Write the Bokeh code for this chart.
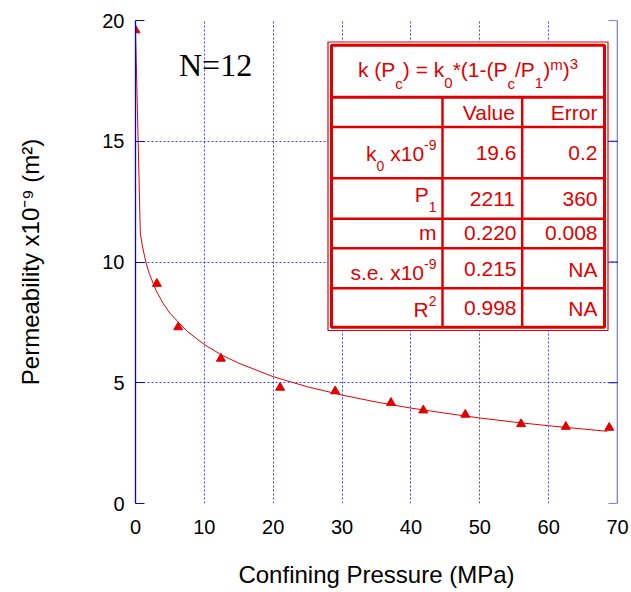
import math
from bokeh.plotting import figure
from bokeh.models import Range1d, FixedTicker, Label, Span
from bokeh.embed import file_html
from bokeh.resources import INLINE

# ---- data ----
pressure = [0.0, 3.1, 6.2, 12.4, 21.0, 29.0, 37.1, 41.8, 47.9, 56.0, 62.5, 68.8]
permeability = [19.6, 9.1, 7.3, 6.0, 4.8, 4.65, 4.17, 3.86, 3.68, 3.29, 3.18, 3.14]

fit_pressure = [0, 0.7, 1.0, 1.5, 2, 3, 4, 5, 7.5, 10, 12.5, 15, 20, 25, 30, 35, 40, 45, 50, 55, 60, 68.5]
fit_perm = [19.6, 11.2, 10.66, 10.0, 9.52, 8.81, 8.29, 7.88, 7.13, 6.58, 6.15, 5.81, 5.25, 4.83,
            4.49, 4.20, 3.95, 3.74, 3.54, 3.37, 3.22, 2.99]

x_ticks = [0, 10, 20, 30, 40, 50, 60, 70]
y_ticks = [0, 5, 10, 15, 20]

x_title = "Confining Pressure (MPa)"
y_title = "Permeability x10\u207b\u2079 (m\u00b2)"
col_headers = ["Value", "Error"]
table_values = ["19.6", "2211", "0.220", "0.215", "0.998"]
table_errors = ["0.2", "360", "0.008", "NA", "NA"]
sample_label = "N=12"

RED = "#e00000"
BLUE = "#0000ff"
SANS = "Liberation Sans"

# ---- figure ----
p = figure(frame_width=482, frame_height=483,
           min_border_left=135, min_border_right=14, min_border_top=20, min_border_bottom=89,
           x_range=Range1d(0, 70), y_range=Range1d(0, 20),
           output_backend="svg", toolbar_location=None)
p.outline_line_color = None
p.background_fill_color = "white"
p.border_fill_color = "white"

for g, t in ((p.xgrid, x_ticks), (p.ygrid, y_ticks)):
    g.ticker = FixedTicker(ticks=t)
    g.grid_line_color = BLUE
    g.grid_line_alpha = 0.75
    g.grid_line_dash = "2 2"
    g.grid_line_width = 1

xa = p.xaxis[0]
xa.ticker = FixedTicker(ticks=x_ticks)
xa.axis_line_color = None
xa.major_tick_line_color = None
xa.minor_tick_line_color = None
xa.major_label_text_font = SANS
xa.major_label_text_font_size = "20px"
xa.major_label_text_color = "black"
xa.major_label_standoff = 10
xa.axis_label = x_title
xa.axis_label_text_font = SANS
xa.axis_label_text_font_size = "24px"
xa.axis_label_text_font_style = "normal"
xa.axis_label_text_color = "black"
xa.axis_label_standoff = 24

ya = p.yaxis[0]
ya.ticker = FixedTicker(ticks=y_ticks)
ya.axis_line_color = BLUE
ya.axis_line_width = 1.3
ya.major_tick_line_color = BLUE
ya.major_tick_in = 9
ya.major_tick_out = 0
ya.minor_tick_line_color = None
ya.major_label_text_font = SANS
ya.major_label_text_font_size = "20px"
ya.major_label_text_color = "black"
ya.major_label_standoff = 11
ya.axis_label = y_title
ya.axis_label_text_font = SANS
ya.axis_label_text_font_size = "24px"
ya.axis_label_text_font_style = "normal"
ya.axis_label_text_color = "black"
ya.axis_label_standoff = 55

# ---- pixel -> data helpers for annotation layout ----
PX0, PX1, PY0, PY1 = 135.0, 617.0, 503.0, 20.0
def dx(px):
    return (px - PX0) * 70.0 / (PX1 - PX0)
def dy(py):
    return (PY0 - py) * 20.0 / (PY0 - PY1)

# right-hand frame line with inward ticks
p.add_layout(Span(location=70, dimension="height", line_color=BLUE, line_width=1.3))
p.segment(x0=[dx(PX1 - 9)] * len(y_ticks), x1=[70] * len(y_ticks), y0=y_ticks, y1=y_ticks,
          line_color=BLUE, line_width=1)

# ---- data marks ----
p.line(fit_pressure, fit_perm, line_color=RED, line_width=1)
p.scatter(pressure, permeability, marker="triangle", size=9, fill_color=RED, line_color=RED)

W = {' ': 278, '!': 278, '(': 333, ')': 333, '*': 389, '-': 333, '.': 278, '/': 278, '=': 584,
     'A': 667, 'E': 667, 'M': 833, 'N': 722, 'P': 667, 'R': 722, 'V': 667,
     'a': 556, 'b': 556, 'c': 500, 'e': 556, 'f': 278, 'g': 556, 'i': 222, 'k': 500, 'l': 222,
     'm': 833, 'n': 556, 'o': 556, 'r': 333, 's': 500, 't': 278, 'u': 556, 'x': 500, 'y': 500}
for d in "0123456789":
    W[d] = 556

def tw(s, size):
    return sum(W.get(c, 556) for c in s) * size / 1000.0

MID = 0.35  # middle of text box above the alphabetic baseline, in em

def put(text, x_px, base_px, size, color, font=SANS, align="left"):
    p.add_layout(Label(x=dx(x_px), y=dy(base_px - MID * size), text=text, text_align=align,
                       text_baseline="middle", text_font=font,
                       text_font_size=f"{size}px", text_color=color))

def rich(pieces, x_px, base_px, align="left", color=RED, main=21, small=15, sub=10, sup=9):
    total = sum(tw(t, main if k == 'n' else small) for t, k in pieces)
    if align == "right":
        cur = x_px - total
    elif align == "center":
        cur = x_px - total / 2.0
    else:
        cur = x_px
    for t, k in pieces:
        size = main if k == 'n' else small
        b = base_px + (sub if k == 'b' else (-sup if k == 'p' else 0))
        lead = len(t) - len(t.lstrip(" "))
        start = cur + tw(" " * lead, size)
        put(t.strip(" "), start, b, size, color)
        cur += tw(t, size)

# ---- N label ----
put(sample_label, 178.5, 76, 32, "black", font="Liberation Serif")

# ---- table ----
TL, TR, TT, TB = 327.5, 607.5, 41.5, 330.0
p.quad(left=[dx(TL)], right=[dx(TR)], top=[dy(TT)], bottom=[dy(TB)],
       fill_color="white", line_color=RED, line_width=1.2)
IL, IR, IT, IB = 331.0, 604.0, 44.8, 326.8
p.quad(left=[dx(IL)], right=[dx(IR)], top=[dy(IT)], bottom=[dy(IB)],
       fill_color=None, line_color=RED, line_width=3)
h_rows = [96.7, 126.5, 177.8, 218.3, 247.7, 287.8]
h_widths = [3, 2.5, 2.5, 2.5, 2.5, 2.5]
p.segment(x0=[dx(IL)] * len(h_rows), x1=[dx(IR)] * len(h_rows),
          y0=[dy(r) for r in h_rows], y1=[dy(r) for r in h_rows],
          line_color=RED, line_width=h_widths)
v_cols = [442.0, 521.7]
p.segment(x0=[dx(c) for c in v_cols], x1=[dx(c) for c in v_cols],
          y0=[dy(96.7)] * 2, y1=[dy(IB)] * 2, line_color=RED, line_width=2.5)

# header formula
rich([("k (P", 'n'), ("c", 'b'), (") = k", 'n'), ("0", 'b'), ("*(1-(P", 'n'), ("c", 'b'),
      ("/P", 'n'), ("1", 'b'), (")", 'n'), ("m", 'p'), (")", 'n'), ("3", 'p')],
     467.5, 76, align="center", sub=12, sup=7)

# column headers
rich([(col_headers[0], 'n')], 516, 119, align="right")
rich([(col_headers[1], 'n')], 597, 119, align="right")

row_names = [
    ([("k", 'n'), ("0", 'b'), (" x10", 'n'), ("-9", 'p')], 160),
    ([("P", 'n'), ("1", 'b')], 201),
    ([("m", 'n')], 239.5),
    ([("s.e. x10", 'n'), ("-9", 'p')], 279),
    ([("R", 'n'), ("2", 'p')], 316),
]
num_base = [160, 206, 239.5, 276, 315]
for (pieces, b), nb, v, e in zip(row_names, num_base, table_values, table_errors):
    rich(pieces, 436, b, align="right", small=14, sub=10, sup=11)
    rich([(v, 'n')], 516, nb, align="right")
    rich([(e, 'n')], 597, nb, align="right")

open("out.html", "w").write(file_html(p, INLINE))
